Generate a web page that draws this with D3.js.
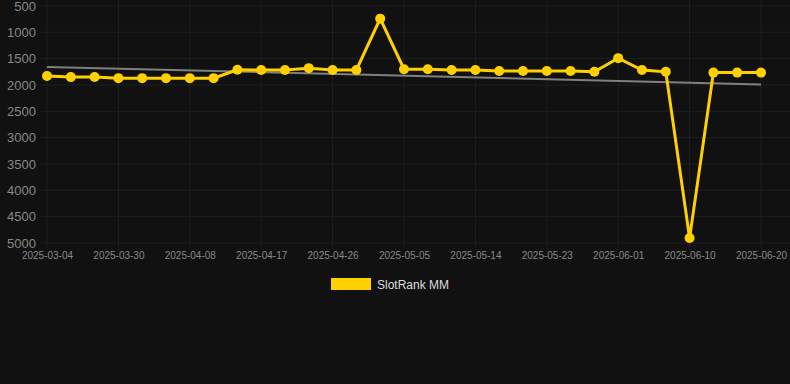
<!DOCTYPE html>
<html>
<head>
<meta charset="utf-8">
<script src="https://cdn.jsdelivr.net/npm/d3@7"></script>
<style>
  body { margin: 0; background: #111111; }
  svg { display: block; }
</style>
</head>
<body>
<script>
// SlotRank MM daily rank, lower is better (y axis reversed)

const dates = [
  '2025-03-04', '2025-03-21', '2025-03-27', '2025-03-30', '2025-04-02', '2025-04-05',
  '2025-04-08', '2025-04-11', '2025-04-14', '2025-04-17', '2025-04-20', '2025-04-23',
  '2025-04-26', '2025-04-29', '2025-05-02', '2025-05-05', '2025-05-08', '2025-05-11',
  '2025-05-14', '2025-05-17', '2025-05-20', '2025-05-23', '2025-05-26', '2025-05-29',
  '2025-06-01', '2025-06-04', '2025-06-07', '2025-06-10', '2025-06-14', '2025-06-17',
  '2025-06-20'
];
const ranks = [
  1830, 1850, 1848, 1870, 1870, 1870, 1870, 1870, 1710, 1715, 1715,
  1680, 1715, 1715, 740, 1700, 1700, 1715, 1715, 1735, 1735, 1735,
  1735, 1750, 1490, 1715, 1750, 4905, 1765, 1765, 1765
];
const yTicks = [500, 1000, 1500, 2000, 2500, 3000, 3500, 4000, 4500, 5000];
const seriesName = 'SlotRank MM';

const width = 790;
const height = 384;
const margin = ({top: 6, right: 29, bottom: 141, left: 47});

const svg = d3.select('body')
  .append('svg')
  .attr('width', width)
  .attr('height', height);

const xScale = d3.scalePoint()
  .domain(dates)
  .range([margin.left, width - margin.right]);

const yScale = d3.scaleLinear()
  .domain([500, 5000])
  .range([margin.top, height - margin.bottom]);

// grid
const labelled = dates.filter((d, i) => i % 3 === 0);

svg.append('g')
  .selectAll('line')
  .data(yTicks)
  .join('line')
  .attr('x1', 40)
  .attr('x2', width)
  .attr('y1', d => yScale(d))
  .attr('y2', d => yScale(d))
  .attr('stroke', '#1f1f1f')
  .attr('stroke-width', 1);

svg.append('g')
  .selectAll('line')
  .data(labelled)
  .join('line')
  .attr('x1', d => xScale(d))
  .attr('x2', d => xScale(d))
  .attr('y1', 0)
  .attr('y2', yScale(5000) + 6)
  .attr('stroke', '#1f1f1f')
  .attr('stroke-width', 1);

// axes
const yAxis = d3.axisLeft(yScale)
  .tickValues(yTicks)
  .tickFormat(d3.format('d'))
  .tickSize(0)
  .tickPadding(11);
svg.append('g')
  .attr('transform', `translate(${margin.left},0)`)
  .call(yAxis)
  .call(g => g.select('.domain').remove())
  .selectAll('text')
  .attr('fill', '#888')
  .attr('font-family', 'Liberation Sans, Arial, sans-serif')
  .attr('font-size', 13);

const xAxis = d3.axisBottom(xScale).tickValues(labelled).tickSize(0).tickPadding(9);
svg.append('g')
  .attr('transform', `translate(0,${yScale(5000)})`)
  .call(xAxis)
  .call(g => g.select('.domain').remove())
  .selectAll('text')
  .attr('fill', '#888')
  .attr('font-family', 'Liberation Sans, Arial, sans-serif')
  .attr('font-size', 10);

// trend line (least squares over the points)
const n = ranks.length;
const mx = d3.mean(ranks, (d, i) => i);
const my = d3.mean(ranks);
const slope = d3.sum(ranks, (d, i) => (i - mx) * (d - my)) / d3.sum(ranks, (d, i) => (i - mx) * (i - mx));
const trend = [0, n - 1].map(i => ({i: i, v: my + slope * (i - mx)}));

svg.append('line')
  .attr('x1', xScale(dates[trend[0].i]))
  .attr('y1', yScale(trend[0].v))
  .attr('x2', xScale(dates[trend[1].i]))
  .attr('y2', yScale(trend[1].v))
  .attr('stroke', '#808080')
  .attr('stroke-width', 2);

// series
const line = d3.line()
  .x((d, i) => xScale(dates[i]))
  .y(d => yScale(d));

svg.append('path')
  .datum(ranks)
  .attr('d', line)
  .attr('fill', 'none')
  .attr('stroke', '#ffd000')
  .attr('stroke-width', 3)
  .attr('stroke-linejoin', 'miter');

svg.append('g')
  .selectAll('circle')
  .data(ranks)
  .join('circle')
  .attr('cx', (d, i) => xScale(dates[i]))
  .attr('cy', d => yScale(d))
  .attr('r', 5)
  .attr('fill', '#ffd000');

// legend
svg.append('rect')
  .attr('x', 331)
  .attr('y', 278)
  .attr('width', 40)
  .attr('height', 12)
  .attr('fill', '#ffd000');

svg.append('text')
  .attr('x', 377)
  .attr('y', 289)
  .attr('font-family', 'Liberation Sans, Arial, sans-serif')
  .attr('font-size', 12)
  .attr('fill', '#dddddd')
  .text(seriesName);
</script>
</body>
</html>
